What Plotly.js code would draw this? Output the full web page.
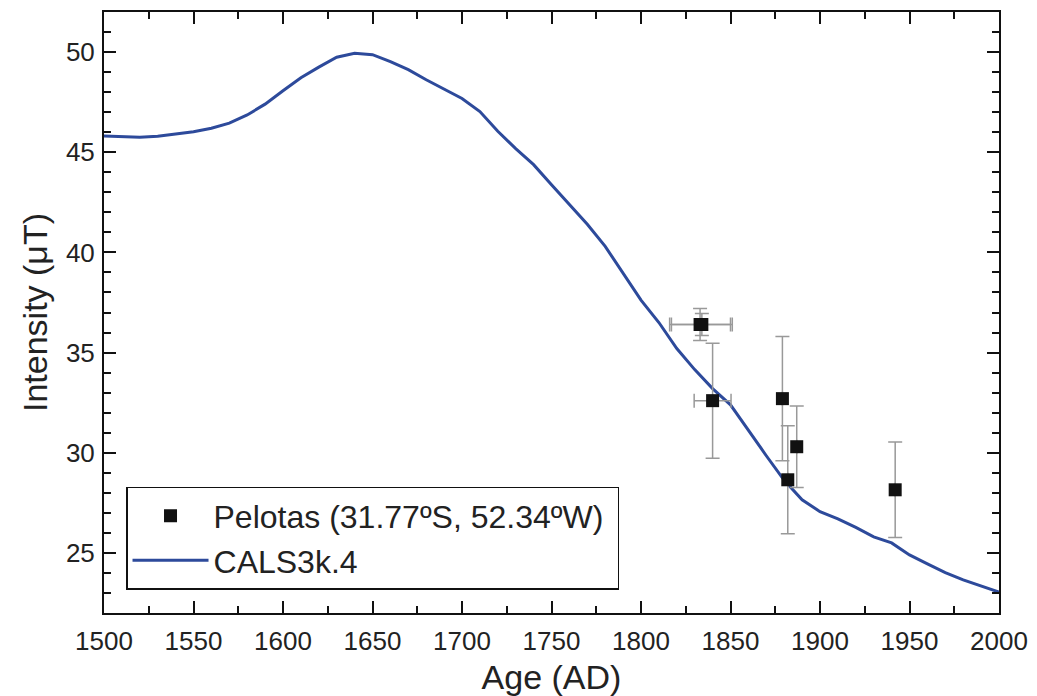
<!DOCTYPE html>
<html>
<head>
<meta charset="utf-8">
<script src="https://cdn.plot.ly/plotly-3.0.1.min.js"></script>
<style>html,body{margin:0;padding:0;background:#fff;}#chart{width:1037px;height:696px;}</style>
</head>
<body>
<div id="chart"></div>
<script>
// CALS3k.4 model curve
const modelYears = [1500,1510,1520,1530,1540,1550,1560,1570,1580,1590,1600,1610,1620,1630,1640,1650,1660,1670,1680,1690,1700,1710,1720,1730,1740,1750,1760,1770,1780,1790,1800,1810,1820,1830,1840,1850,1860,1870,1880,1890,1900,1910,1920,1930,1940,1950,1960,1970,1980,1990,2000];
const modelIntensity = [45.81,45.77,45.75,45.8,45.9,46.02,46.2,46.45,46.86,47.4,48.07,48.72,49.25,49.74,49.94,49.87,49.52,49.12,48.62,48.17,47.68,47.03,46.05,45.18,44.38,43.38,42.4,41.4,40.3,38.95,37.62,36.5,35.2,34.15,33.2,32.39,31.1,29.85,28.62,27.65,27.06,26.7,26.27,25.8,25.5,24.9,24.45,24.02,23.65,23.35,23.04];

// Pelotas data
const pelotasAge = [1833,1834,1840,1879,1882,1887,1942];
const pelotasIntensity = [36.4,36.4,32.6,32.7,28.65,30.3,28.15];
const pelotasIntensityErr = [0.8,0.55,2.87,3.1,2.7,2.03,2.38];
const pelotasAgeErr = [17,17,10.3,0,0,0,0];

const xTickVals = [1500,1550,1600,1650,1700,1750,1800,1850,1900,1950,2000];
const yTickVals = [25,30,35,40,45,50];

const FONT = '"Liberation Sans", Arial, Helvetica, sans-serif';

const traces = [
  {
    x: modelYears, y: modelIntensity,
    type: 'scatter', mode: 'lines',
    name: 'CALS3k.4',
    line: {color: '#2D4A9B', width: 3},
    legendrank: 2
  },
  {
    x: pelotasAge, y: pelotasIntensity,
    type: 'scatter', mode: 'markers',
    name: 'Pelotas (31.77ºS, 52.34ºW)\u00A0',
    marker: {symbol: 'square', size: 13, color: '#111'},
    error_y: {type: 'data', array: pelotasIntensityErr, visible: true, color: '#999', thickness: 1.5, width: 7},
    error_x: {type: 'data', array: pelotasAgeErr, visible: true, color: '#999', thickness: 1.5, width: 7},
    legendrank: 1
  }
];

const axisCommon = {
  showline: true, linecolor: '#111', linewidth: 2,
  mirror: 'ticks',
  ticks: 'inside', ticklen: 12, tickwidth: 2, tickcolor: '#111',
  showgrid: false, zeroline: false,
  tickfont: {family: FONT, size: 26, color: '#222'}
};

const layout = {
  width: 1037, height: 696,
  margin: {l: 104, r: 38, t: 12, b: 83},
  paper_bgcolor: '#fff', plot_bgcolor: '#fff',
  showlegend: true,
  font: {family: FONT, color: '#222'},
  xaxis: Object.assign({}, axisCommon, {
    range: [1500, 2000],
    tickmode: 'array', tickvals: xTickVals,
    minor: {ticks: 'inside', ticklen: 7, tickwidth: 2, tickcolor: '#111', dtick: 25, tick0: 1500},
    ticklabelstandoff: 4,
    title: {text: 'Age (AD)', font: {family: FONT, size: 34, color: '#222'}, standoff: 10}
  }),
  yaxis: Object.assign({}, axisCommon, {
    range: [22, 52],
    tickmode: 'array', tickvals: yTickVals,
    minor: {ticks: 'inside', ticklen: 7, tickwidth: 2, tickcolor: '#111', dtick: 1, tick0: 22},
    ticklabelstandoff: 2,
    title: {text: 'Intensity (μT)', font: {family: FONT, size: 34, color: '#222'}, standoff: 8}
  }),
  legend: {
    x: 0.0246, y: 0.2097, xanchor: 'left', yanchor: 'top',
    bgcolor: '#fff', bordercolor: '#111', borderwidth: 1.5,
    font: {family: FONT, size: 32, color: '#222'},
    itemwidth: 76,
    tracegroupgap: 0
  }
};

Plotly.newPlot('chart', traces, layout, {displayModeBar: false, staticPlot: true});
</script>
</body>
</html>
